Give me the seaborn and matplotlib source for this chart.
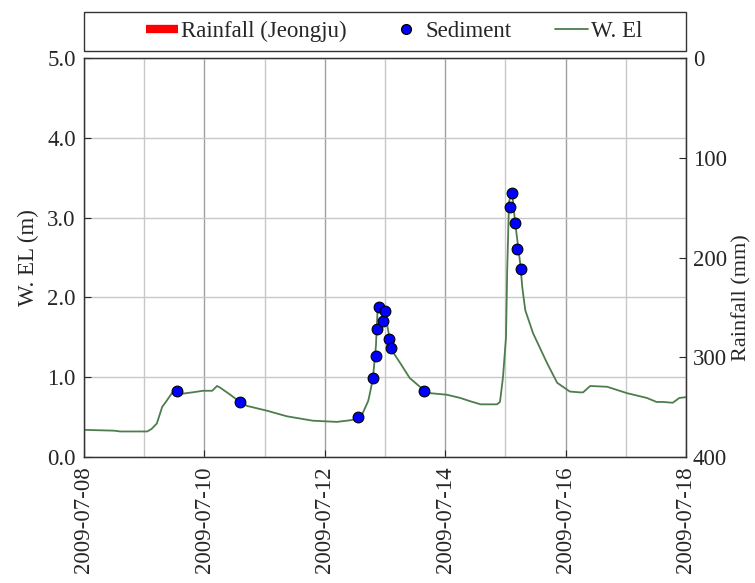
import numpy as np
import pandas as pd
import matplotlib
matplotlib.use("Agg")
import matplotlib.pyplot as plt
import matplotlib.dates as mdates
from matplotlib.lines import Line2D
from matplotlib.patches import Rectangle
import seaborn as sns

# ---------------- data ----------------
start = pd.Timestamp("2009-07-08")

# water level: offset in days from 2009-07-08, value in m
wl_days = [0.00, 0.50, 0.60, 1.05, 1.12, 1.21, 1.30, 1.35, 1.46, 1.55, 1.60, 1.80,
           1.98, 2.13, 2.21, 2.26, 2.43, 2.59, 2.71, 3.04, 3.37, 3.80, 4.20, 4.42,
           4.55, 4.63, 4.72, 4.75, 4.80, 4.85, 4.88, 4.93, 5.03, 5.11, 5.25, 5.41,
           5.58, 5.75, 6.03, 6.25, 6.41, 6.59, 6.86, 6.91, 6.96, 7.01, 7.03, 7.06,
           7.11, 7.16, 7.25, 7.28, 7.33, 7.46, 7.69, 7.86, 8.07, 8.24, 8.29, 8.41,
           8.69, 9.02, 9.35, 9.51, 9.61, 9.78, 9.89, 10.00]
wl_vals = [0.34, 0.33, 0.32, 0.32, 0.35, 0.42, 0.63, 0.68, 0.80, 0.82, 0.79, 0.81,
           0.83, 0.83, 0.89, 0.87, 0.78, 0.69, 0.64, 0.58, 0.51, 0.455, 0.44, 0.46,
           0.48, 0.55, 0.70, 0.80, 0.99, 1.40, 1.90, 1.86, 1.68, 1.34, 1.18, 0.99,
           0.88, 0.80, 0.78, 0.74, 0.70, 0.66, 0.66, 0.69, 1.00, 1.50, 2.34, 3.20,
           3.32, 2.95, 2.40, 2.13, 1.84, 1.55, 1.18, 0.93, 0.82, 0.81, 0.81, 0.89,
           0.88, 0.80, 0.74, 0.69, 0.69, 0.68, 0.74, 0.75]

# sediment sampling times (days from start) and water level at sampling (m)
sed_days = [1.545, 2.59, 4.55, 4.80, 4.85, 4.86, 4.90, 4.97, 5.00, 5.07, 5.10, 5.65,
            7.08, 7.11, 7.16, 7.19, 7.26]
sed_vals = [0.83, 0.69, 0.50, 0.99, 1.27, 1.60, 1.88, 1.70, 1.83, 1.48, 1.37, 0.83,
            3.13, 3.31, 2.93, 2.61, 2.36]

# daily rainfall (Jeongju), mm -- no bars visible in the chart
rain_dates = ["2009-07-08", "2009-07-09", "2009-07-10", "2009-07-11", "2009-07-12",
              "2009-07-13", "2009-07-14", "2009-07-15", "2009-07-16", "2009-07-17"]
rain_mm = [0, 0, 0, 0, 0, 0, 0, 0, 0, 0]

x_ticks = ["2009-07-08", "2009-07-10", "2009-07-12", "2009-07-14", "2009-07-16", "2009-07-18"]

wl_df = pd.DataFrame({"time": start + pd.to_timedelta(wl_days, unit="D"), "wl": wl_vals})
sed_df = pd.DataFrame({"time": start + pd.to_timedelta(sed_days, unit="D"), "wl": sed_vals})

# ---------------- style ----------------
sns.set_style("ticks")
plt.rcParams["font.family"] = ["Liberation Serif", "DejaVu Serif"]

FS = 16.5
fig = plt.figure(figsize=(7.55, 5.83), dpi=100)
ax = fig.add_axes([84/755, 1-457/583, 602/755, 399/583])

line_color = "#4d7d4d"

ax.xaxis.set_major_locator(mdates.DayLocator(interval=2))
ax.xaxis.set_minor_locator(mdates.DayLocator(interval=1))
ax.xaxis.set_major_formatter(mdates.DateFormatter("%Y-%m-%d"))
ax.grid(True, which="minor", axis="x", color="#c8c8c8", lw=1.0, zorder=0)
ax.grid(True, which="major", axis="x", color="#a0a0a0", lw=1.0, zorder=0)
ax.grid(True, which="major", axis="y", color="#c8c8c8", lw=1.0, zorder=0)

sns.lineplot(data=wl_df, x="time", y="wl", ax=ax, color=line_color, lw=1.3, zorder=3)
sns.scatterplot(data=sed_df, x="time", y="wl", ax=ax, color="#0000ff", edgecolor="black",
                linewidth=0.8, s=60, zorder=4)

ax.set_xlim(pd.Timestamp(x_ticks[0]), pd.Timestamp(x_ticks[-1]))
ax.set_ylim(0, 5)
ax.set_yticks(np.arange(0, 5.01, 1.0))
ax.yaxis.set_major_formatter(matplotlib.ticker.FormatStrFormatter("%.1f"))
ax.set_xticks(pd.to_datetime(x_ticks))
ax.tick_params(axis="x", which="major", direction="in", length=5, labelsize=FS, rotation=90, pad=7)
ax.tick_params(axis="x", which="minor", length=0)
ax.tick_params(axis="y", direction="in", length=5, labelsize=FS, pad=6)
ax.set_xlabel("")
ax.set_ylabel("W. EL (m)", fontsize=FS, labelpad=6)
for s in ax.spines.values():
    s.set_color("#333333")
    s.set_linewidth(1.0)

# rainfall on inverted secondary axis
ax2 = ax.twinx()
ax2.bar(pd.to_datetime(rain_dates), rain_mm, width=0.04, color="red", align="center", zorder=2)
ax2.set_ylim(400, 0)
ax2.set_yticks([0, 100, 200, 300, 400])
ax2.tick_params(axis="y", direction="in", length=5, labelsize=FS, pad=5)
ax2.set_ylabel("Rainfall (mm)", fontsize=16)
ax2.yaxis.set_label_coords(1.076, 0.40)
ax2.grid(False)
for s in ax2.spines.values():
    s.set_color("#333333")
ax.set_xlim(pd.Timestamp(x_ticks[0]), pd.Timestamp(x_ticks[-1]))

# legend box above plot
fig.patches.append(Rectangle((84/755, 1-51/583), 602/755, 39/583, transform=fig.transFigure,
                             facecolor="white", edgecolor="#333333", lw=1.0))
handles = [Line2D([], [], color="red", lw=6, solid_capstyle="butt"),
           Line2D([], [], marker="o", ls="none", color="#0000ff", markeredgecolor="black",
                  markersize=7),
           Line2D([], [], color=line_color, lw=1.3)]
labels = ["Rainfall (Jeongju)", "Sediment", "W. El"]
leg = fig.legend(handles, labels, loc="center", ncol=3,
                 bbox_to_anchor=(394/755, 1-31.5/583),
                 frameon=False, fontsize=FS, handlelength=1.4,
                 handletextpad=0.15, borderaxespad=0, columnspacing=1.9)

fig.savefig("out.png", dpi=100)
